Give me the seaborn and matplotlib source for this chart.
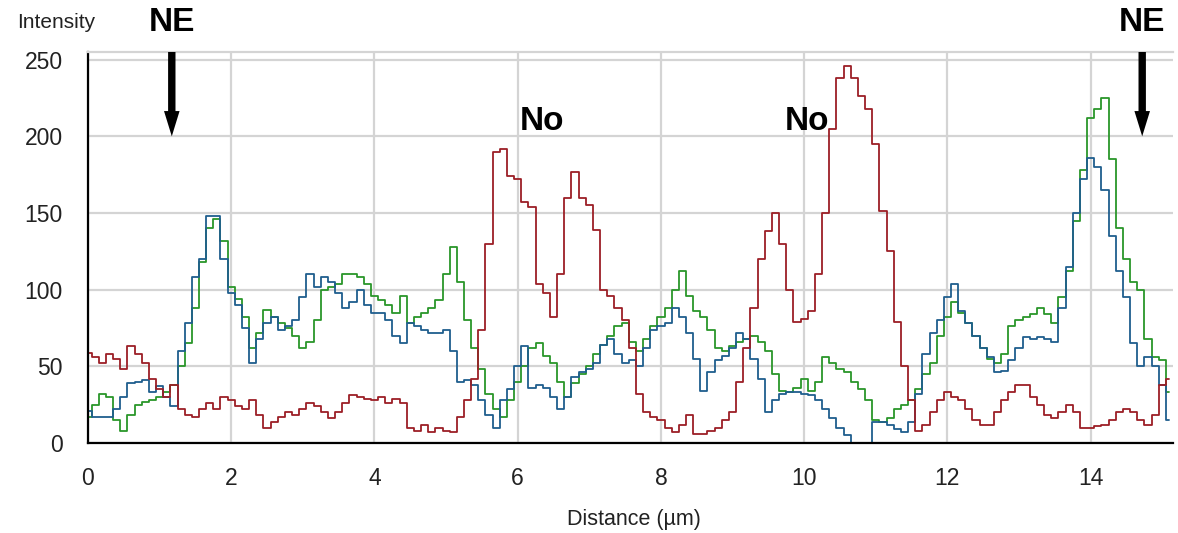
import numpy as np
import pandas as pd
import matplotlib
matplotlib.use("Agg")
import matplotlib.pyplot as plt
import seaborn as sns

# ---------------- data ----------------
distance = np.round(np.arange(152) * 0.1, 1)  # µm, 0.0 .. 15.1

red = [59, 56, 52, 58, 55, 48, 63, 58, 52, 42,
       35, 30, 38, 22, 18, 17, 22, 26, 22, 30,
       28, 24, 22, 28, 18, 10, 14, 17, 20, 18,
       22, 26, 24, 20, 16, 20, 26, 31, 30, 29,
       28, 30, 26, 29, 26, 10, 8, 12, 7, 10,
       8, 7, 17, 28, 42, 74, 130, 190, 192, 174,
       172, 157, 154, 104, 98, 82, 110, 160, 177, 160,
       155, 139, 100, 96, 88, 80, 62, 32, 20, 17,
       15, 10, 7, 12, 18, 6, 6, 8, 10, 15,
       20, 40, 62, 88, 120, 138, 150, 130, 100, 79,
       81, 86, 110, 150, 205, 238, 246, 238, 226, 218,
       195, 151, 125, 79, 50, 28, 8, 12, 20, 28,
       33, 30, 28, 22, 15, 12, 12, 20, 28, 33,
       38, 38, 30, 25, 18, 16, 20, 25, 20, 10,
       10, 11, 12, 15, 20, 22, 20, 15, 12, 18,
       38, 42]

blue = [21, 17, 17, 17, 22, 30, 39, 40, 41, 33,
        37, 30, 24, 60, 78, 108, 120, 148, 148, 120,
        98, 90, 75, 52, 68, 78, 82, 74, 76, 80,
        95, 110, 102, 108, 105, 98, 88, 92, 100, 90,
        85, 85, 80, 70, 65, 78, 76, 74, 72, 72,
        74, 60, 40, 41, 38, 28, 18, 10, 28, 35,
        50, 63, 36, 38, 36, 30, 22, 30, 43, 46,
        48, 52, 64, 68, 58, 52, 54, 50, 62, 74,
        76, 78, 88, 82, 72, 55, 34, 46, 54, 57,
        62, 72, 68, 55, 42, 20, 28, 32, 33, 33,
        32, 31, 28, 22, 16, 10, 5, 0, 0, 0,
        14, 14, 12, 9, 7, 14, 32, 58, 72, 80,
        95, 104, 86, 78, 70, 62, 56, 46, 47, 54,
        62, 69, 68, 69, 68, 66, 88, 115, 150, 172,
        186, 180, 165, 135, 112, 95, 65, 50, 56, 50,
        38, 15]

green = [17, 25, 32, 30, 15, 8, 18, 25, 27, 28,
         30, 33, 38, 50, 65, 88, 118, 140, 146, 132,
         102, 94, 82, 62, 72, 87, 82, 78, 75, 70,
         62, 66, 80, 100, 102, 104, 110, 110, 108, 104,
         96, 93, 90, 85, 96, 78, 82, 85, 88, 93,
         110, 128, 105, 80, 62, 48, 32, 22, 17, 28,
         40, 50, 62, 65, 57, 52, 40, 30, 39, 45,
         50, 58, 64, 70, 76, 78, 66, 60, 68, 76,
         82, 88, 100, 112, 96, 86, 82, 74, 62, 60,
         63, 66, 68, 70, 66, 60, 45, 34, 33, 36,
         42, 34, 40, 56, 52, 48, 46, 40, 35, 28,
         15, 14, 16, 22, 25, 28, 35, 45, 52, 70,
         82, 92, 85, 78, 70, 62, 55, 52, 58, 76,
         80, 82, 84, 88, 84, 78, 95, 112, 145, 178,
         212, 218, 225, 185, 140, 120, 105, 100, 68, 56,
         54, 33]

channels = ["green", "blue", "red"]
x_ticks = [0, 2, 4, 6, 8, 10, 12, 14]
y_ticks = [0, 50, 100, 150, 200, 250]
ne_positions = [1.17, 14.72]
no_positions = [6.34, 10.04]

# ---------------- style ----------------
sns.set_style("white")
plt.rcParams["font.family"] = ["Liberation Sans", "DejaVu Sans"]

palette = {"red": "#9C1F26", "green": "#2A962A", "blue": "#1F5E8E"}

df = pd.concat([
    pd.DataFrame({"distance": distance, "intensity": red, "channel": "red"}),
    pd.DataFrame({"distance": distance, "intensity": green, "channel": "green"}),
    pd.DataFrame({"distance": distance, "intensity": blue, "channel": "blue"}),
], ignore_index=True)

fig = plt.figure(figsize=(11.78, 5.33), dpi=100)
W, H = 1178, 533
ax = fig.add_axes([88 / W, 90 / H, (1173 - 88) / W, (443 - 52) / H])

sns.lineplot(data=df, x="distance", y="intensity", hue="channel",
             hue_order=channels, palette=palette, drawstyle="steps-mid",
             linewidth=1.3, legend=False, estimator=None, sort=False, ax=ax)

ax.set_xlim(0, 15.15)
ax.set_ylim(0, 255)
ax.set_xticks(x_ticks)
ax.set_yticks(y_ticks)
ax.set_xlabel("")
ax.set_ylabel("")
ax.grid(True, color="#D4D4D4", linewidth=1.6)
ax.set_axisbelow(True)

for s in ["left", "bottom"]:
    ax.spines[s].set_color("black")
    ax.spines[s].set_linewidth(1.6)
ax.spines["right"].set_visible(False)
ax.spines["top"].set_color("#D4D4D4")
ax.spines["top"].set_linewidth(1.6)

ax.tick_params(axis="both", direction="out", length=7, width=1.5,
               color="black", labelsize=16.5, labelcolor="#222222")
ax.tick_params(axis="y", pad=11)
ax.tick_params(axis="x", pad=10)

fig.text(17 / W, 1 - 23 / H, "Intensity", fontsize=15, color="#222222",
         ha="left", va="center")
fig.text(634 / W, 1 - 519 / H, "Distance (\u00b5m)", fontsize=15.5,
         color="#222222", ha="center", va="center")

for x in ne_positions:
    ax.text(x, 274.5, "NE", fontsize=24, fontweight="bold", ha="center",
            va="center", color="black", clip_on=False)
    ax.annotate("", xy=(x, 200), xytext=(x, 255),
                arrowprops=dict(arrowstyle="simple,head_length=1.3,head_width=0.8,tail_width=0.38",
                                mutation_scale=14, color="black", lw=0,
                                shrinkA=0, shrinkB=0),
                annotation_clip=False)

for x in no_positions:
    ax.text(x, 209.5, "No", fontsize=24, fontweight="bold", ha="center",
            va="center", color="black")

fig.savefig("out.png", dpi=100)
